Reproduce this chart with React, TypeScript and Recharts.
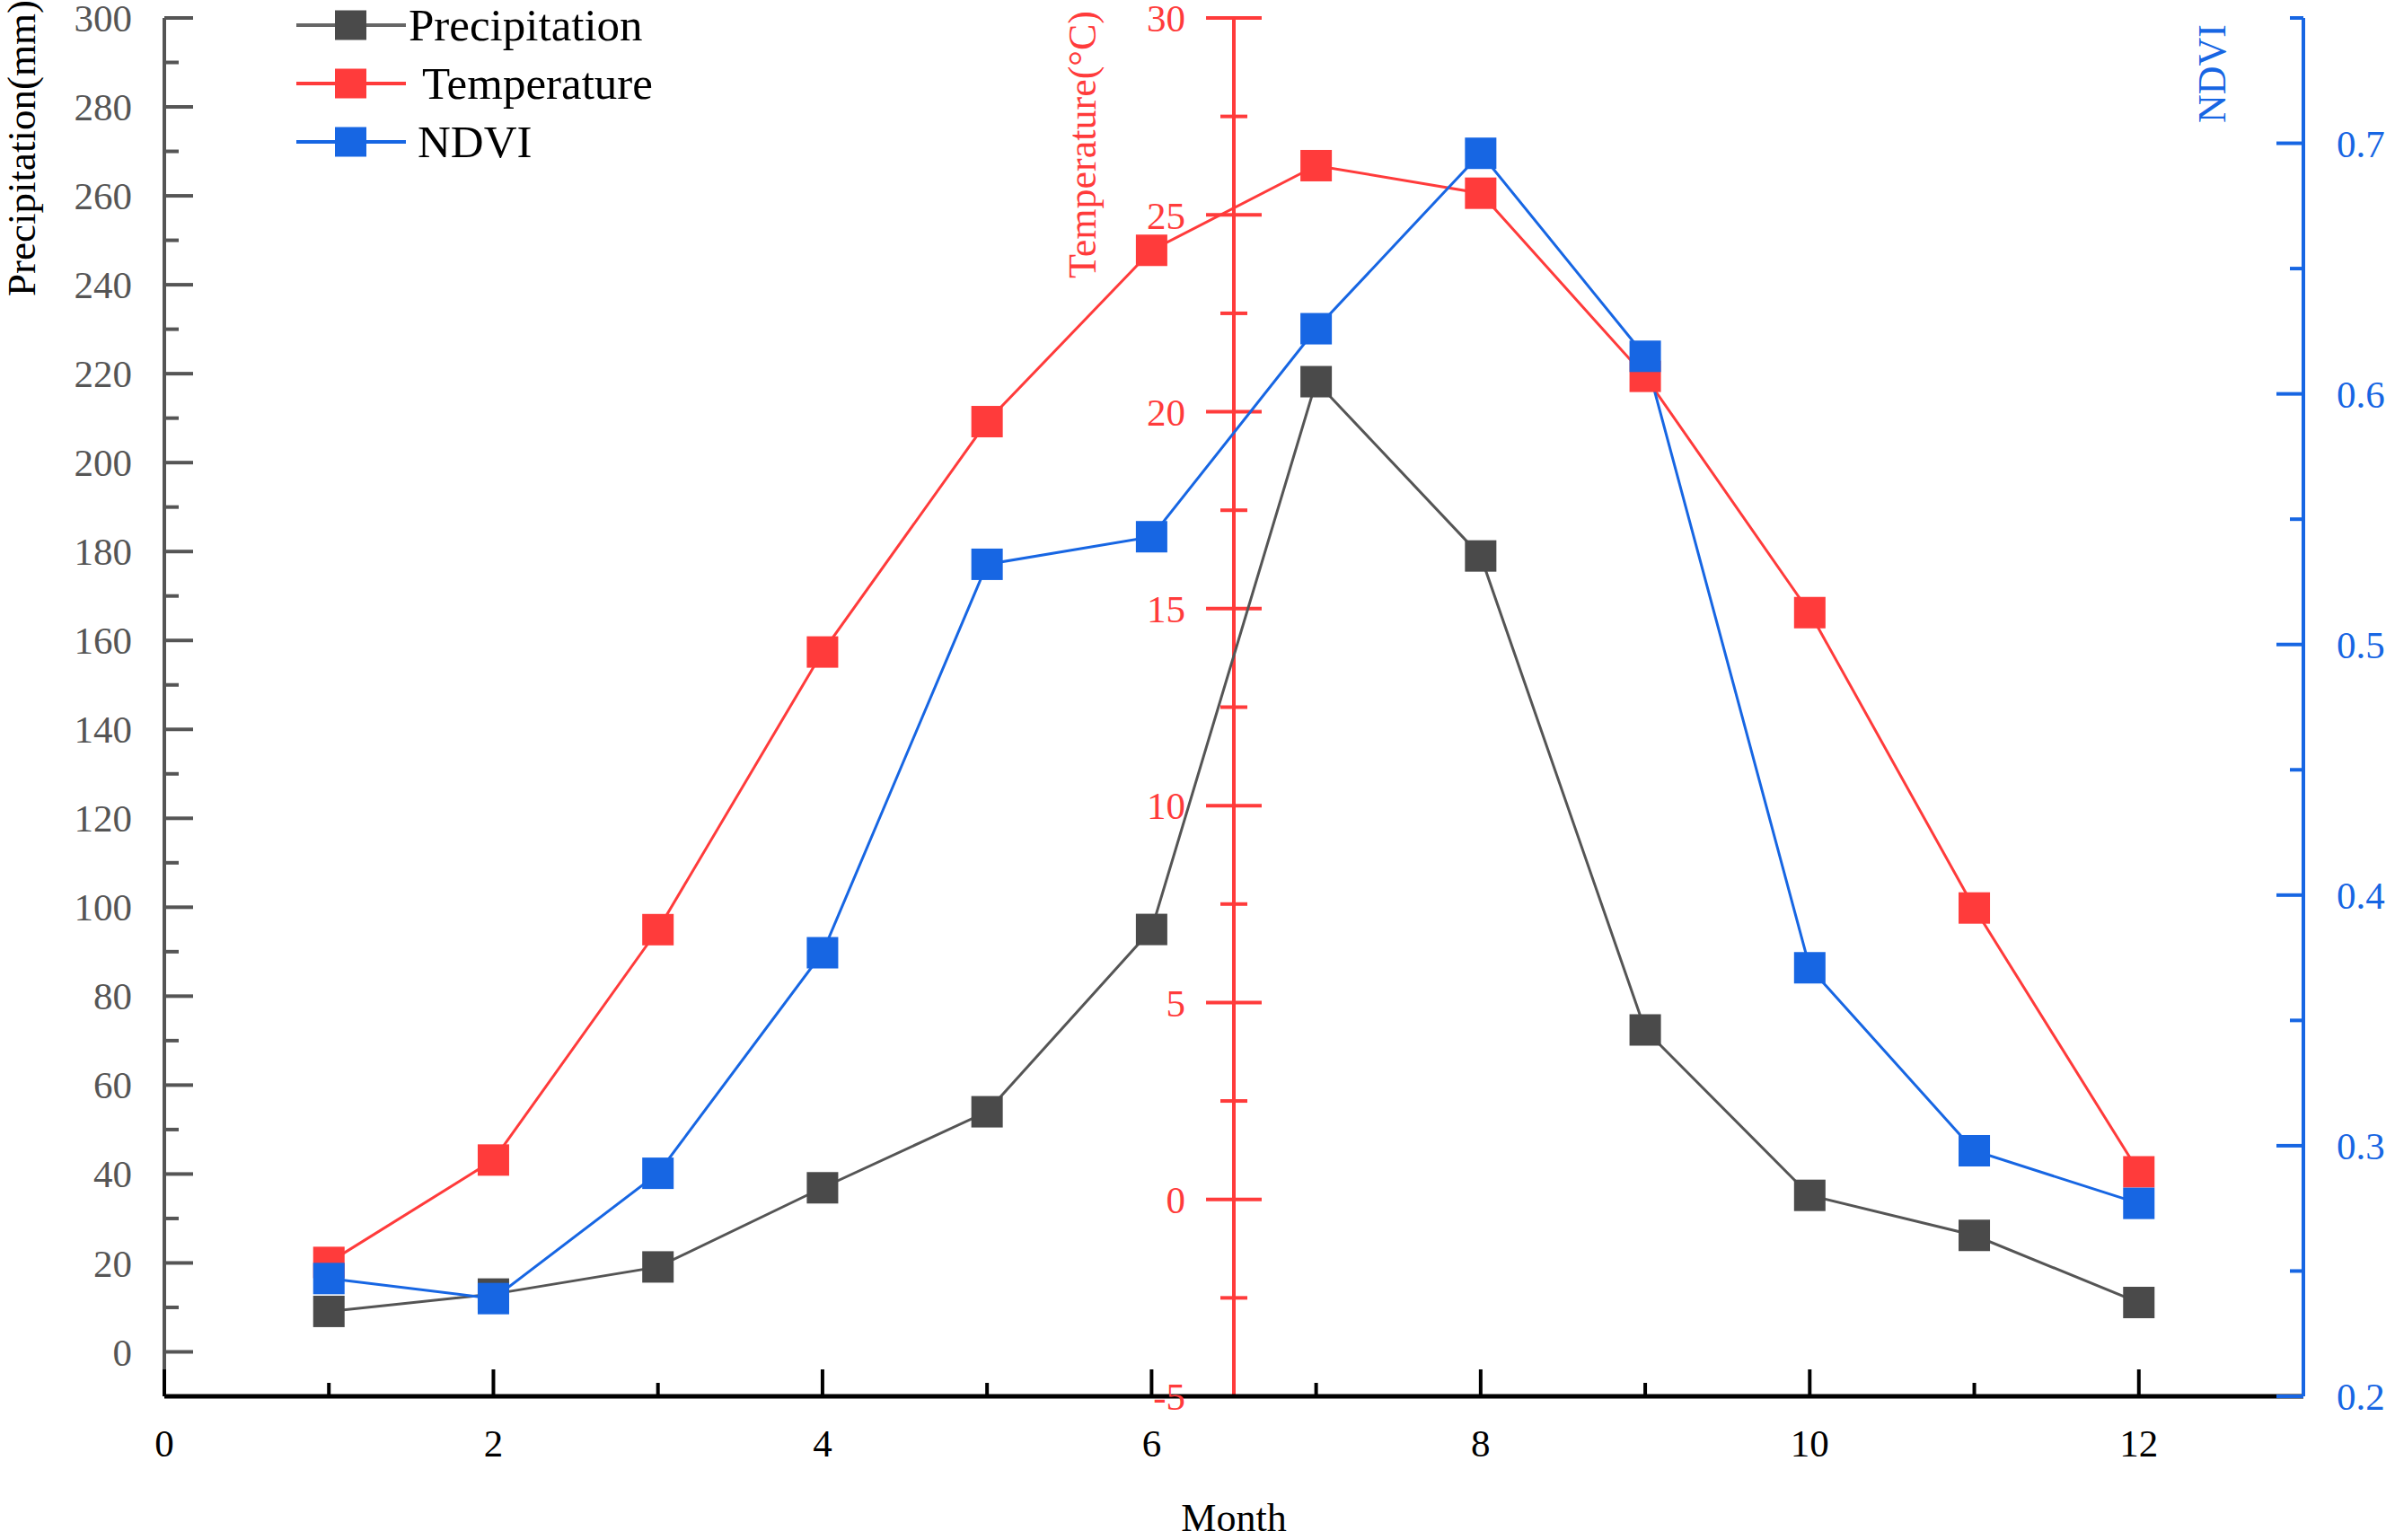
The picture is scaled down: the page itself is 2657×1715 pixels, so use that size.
import { LineChart, Line, XAxis, YAxis, ReferenceLine, Legend } from 'recharts';

const months = [1, 2, 3, 4, 5, 6, 7, 8, 9, 10, 11, 12];
const precipitation = [9.1, 13.0, 19.1, 36.9, 54.0, 95.0, 218.2, 179.0, 72.4, 35.2, 26.2, 11.1];
const temperature = [-1.6, 1.0, 6.85, 13.9, 19.75, 24.1, 26.25, 25.55, 20.9, 14.9, 7.4, 0.7];
const ndvi = [0.247, 0.239, 0.289, 0.377, 0.532, 0.543, 0.626, 0.696, 0.615, 0.371, 0.298, 0.277];

const monthTicks = [0, 1, 2, 3, 4, 5, 6, 7, 8, 9, 10, 11, 12];
const precipTicks = [
  0, 10, 20, 30, 40, 50, 60, 70, 80, 90, 100, 110, 120, 130, 140, 150, 160, 170, 180, 190, 200,
  210, 220, 230, 240, 250, 260, 270, 280, 290, 300,
];
const tempTicks = [-5, -2.5, 0, 2.5, 5, 7.5, 10, 12.5, 15, 17.5, 20, 22.5, 25, 27.5, 30];
const ndviTicks = [0.2, 0.25, 0.3, 0.35, 0.4, 0.45, 0.5, 0.55, 0.6, 0.65, 0.7, 0.75];
const tempAxisMonth = 6.5;

const data = months.map((month, i) => ({
  month,
  precipitation: precipitation[i],
  temperature: temperature[i],
  ndvi: ndvi[i],
}));

const FONT = '"Liberation Serif", "Times New Roman", serif';
const GREY = '#555555';
const PRECIP_FILL = '#4a4a4a';
const RED = '#ff3b3b';
const BLUE = '#1766e3';

const legendItems = [
  { name: 'Precipitation', line: '#666666', fill: PRECIP_FILL, textX: 455, cy: 28 },
  { name: 'Temperature', line: RED, fill: RED, textX: 470, cy: 93 },
  { name: 'NDVI', line: BLUE, fill: BLUE, textX: 465, cy: 158 },
];

const squareDot = (fill: string) => (props: any) => {
  const { cx, cy, index } = props;
  return <rect key={`dot-${index}`} x={cx - 17.5} y={cy - 17.5} width={35} height={35} fill={fill} />;
};

function LeftTick({ x, y, payload }: any) {
  const v = payload.value;
  const major = v % 20 === 0;
  const ax = x + 36;
  return (
    <g>
      <line x1={ax} x2={ax + (major ? 32 : 16)} y1={y} y2={y} stroke={GREY} strokeWidth={4} />
      {major && (
        <text x={x} y={y} dy="0.35em" textAnchor="end" fontSize={43} fontFamily={FONT} fill={GREY}>
          {v}
        </text>
      )}
    </g>
  );
}

function RightTick({ x, y, payload }: any) {
  const v = payload.value;
  const major = Math.round(v * 100) % 10 === 0;
  const ax = x - 37;
  return (
    <g>
      <line x1={ax} x2={ax - (major ? 30 : 15)} y1={y} y2={y} stroke={BLUE} strokeWidth={4} />
      {major && (
        <text x={x} y={y} dy="0.35em" textAnchor="start" fontSize={43} fontFamily={FONT} fill={BLUE}>
          {v.toFixed(1)}
        </text>
      )}
    </g>
  );
}

function BottomTick({ x, y, payload }: any) {
  const v = payload.value;
  const major = v % 2 === 0;
  const ay = y - 36;
  return (
    <g>
      <line x1={x} x2={x} y1={ay} y2={ay - (major ? 30 : 15)} stroke="#000" strokeWidth={4} />
      {major && (
        <text x={x} y={y} dy="0.71em" textAnchor="middle" fontSize={43} fontFamily={FONT} fill="#000">
          {v}
        </text>
      )}
    </g>
  );
}

function VerticalTitle({ viewBox, text, dx, dy, color, size }: any) {
  const cx = viewBox.x + dx;
  const cy = viewBox.y + dy;
  return (
    <text
      x={cx}
      y={cy}
      transform={`rotate(-90 ${cx} ${cy})`}
      textAnchor="middle"
      dominantBaseline="central"
      fontSize={size}
      fontFamily={FONT}
      fill={color}
    >
      {text}
    </text>
  );
}

function MonthTitle({ viewBox }: any) {
  return (
    <text
      x={viewBox.x + viewBox.width / 2}
      y={viewBox.y + 150}
      textAnchor="middle"
      fontSize={44}
      fontFamily={FONT}
      fill="#000"
    >
      Month
    </text>
  );
}

function LegendBox() {
  return (
    <svg width={800} height={200}>
      {legendItems.map((item) => (
        <g key={item.name}>
          <line x1={330} x2={452} y1={item.cy} y2={item.cy} stroke={item.line} strokeWidth={4} />
          <rect x={373} y={item.cy - 16.5} width={35} height={33} fill={item.fill} />
          <text x={item.textX} y={item.cy} dy="0.33em" fontSize={51} fontFamily={FONT} fill="#000">
            {item.name}
          </text>
        </g>
      ))}
    </svg>
  );
}

export default function App() {
  return (
    <div style={{ position: 'absolute', left: 0, top: 0, background: '#fff' }}>
      <LineChart width={2657} height={1715} data={data} margin={{ top: 20, right: 0, bottom: 60, left: 83 }}>
        <XAxis
          dataKey="month"
          type="number"
          domain={[0, 13]}
          ticks={monthTicks}
          interval={0}
          allowDataOverflow
          height={100}
          tickSize={0}
          tickMargin={36}
          tickLine={false}
          axisLine={{ stroke: '#000', strokeWidth: 5 }}
          tick={(p: any) => <BottomTick {...p} />}
          label={<MonthTitle />}
        />
        <YAxis
          yAxisId="p"
          orientation="left"
          type="number"
          domain={[-10, 300]}
          ticks={precipTicks}
          interval={0}
          allowDataOverflow
          width={100}
          tickSize={0}
          tickMargin={36}
          tickLine={false}
          axisLine={{ stroke: GREY, strokeWidth: 4 }}
          tick={(p: any) => <LeftTick {...p} />}
          label={<VerticalTitle text="Precipitation(mm)" dx={-59} dy={145} color="#000" size={45} />}
        />
        <YAxis
          yAxisId="n"
          orientation="right"
          type="number"
          domain={[0.2, 0.75]}
          ticks={ndviTicks}
          interval={0}
          allowDataOverflow
          width={92}
          tickSize={0}
          tickMargin={37}
          tickLine={false}
          axisLine={{ stroke: BLUE, strokeWidth: 4 }}
          tick={(p: any) => <RightTick {...p} />}
          label={<VerticalTitle text="NDVI" dx={-102} dy={62} color={BLUE} size={44} />}
        />
        <YAxis yAxisId="t" type="number" domain={[-5, 30]} allowDataOverflow hide />

        <ReferenceLine
          x={tempAxisMonth}
          yAxisId="t"
          stroke={RED}
          strokeWidth={4}
          ifOverflow="visible"
          label={<VerticalTitle text="Temperature(°C)" dx={-169} dy={141} color={RED} size={44} />}
        />
        {tempTicks.map((v) => {
          const major = v % 5 === 0;
          const h = major ? 0.169 : 0.082;
          return (
            <ReferenceLine
              key={`t-${v}`}
              yAxisId="t"
              segment={[
                { x: tempAxisMonth - h, y: v },
                { x: tempAxisMonth + h, y: v },
              ]}
              stroke={RED}
              strokeWidth={4}
              ifOverflow="visible"
              label={
                major
                  ? { value: String(v), position: 'left', offset: 23, fill: RED, fontSize: 43, fontFamily: FONT }
                  : undefined
              }
            />
          );
        })}

        <Line
          yAxisId="p"
          type="linear"
          dataKey="precipitation"
          name="Precipitation"
          stroke={GREY}
          strokeWidth={3}
          dot={squareDot(PRECIP_FILL)}
          activeDot={false}
          isAnimationActive={false}
        />
        <Line
          yAxisId="t"
          type="linear"
          dataKey="temperature"
          name="Temperature"
          stroke={RED}
          strokeWidth={3}
          dot={squareDot(RED)}
          activeDot={false}
          isAnimationActive={false}
        />
        <Line
          yAxisId="n"
          type="linear"
          dataKey="ndvi"
          name="NDVI"
          stroke={BLUE}
          strokeWidth={3}
          dot={squareDot(BLUE)}
          activeDot={false}
          isAnimationActive={false}
        />
        <Legend
          layout="vertical"
          align="center"
          verticalAlign="middle"
          content={() => <LegendBox />}
          wrapperStyle={{ top: 0, left: 0, width: 800, height: 200 }}
        />
      </LineChart>
    </div>
  );
}
